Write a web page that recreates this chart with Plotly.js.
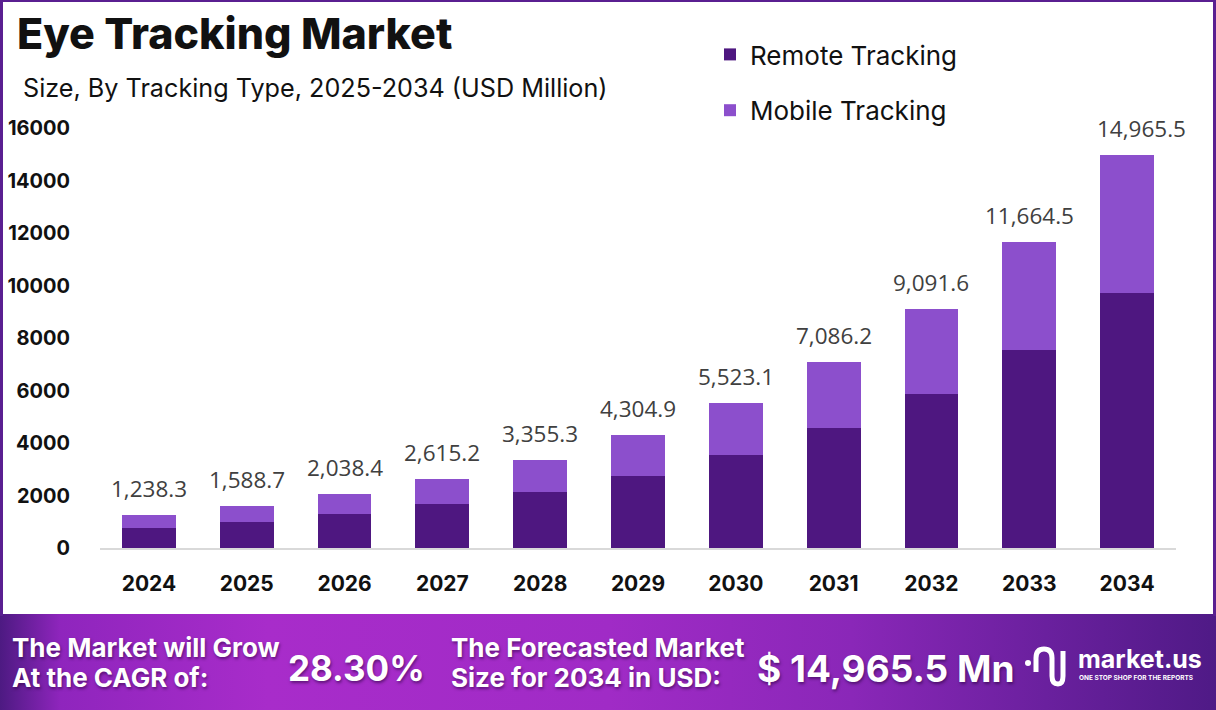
<!DOCTYPE html>
<html>
<head>
<meta charset="utf-8">
<script src="https://cdn.plot.ly/plotly-3.0.1.min.js"></script>
<style>
  html, body { margin: 0; padding: 0; background: #ffffff; }
  #wrap { position: relative; width: 1216px; height: 710px; overflow: hidden; }
  #banner { position: absolute; left: 0; top: 614px; width: 1216px; height: 96px;
    background: linear-gradient(90deg, #4d1a82 0%, #8f25bd 5%, #a82cca 22%, #a02bc6 50%, #8a27b8 70%, #6a209e 86%, #4f1a86 100%); }
  #border { position: absolute; left: 0; top: 0; width: 1210px; height: 614px;
    border-left: 3px solid #5a1f91; border-right: 3px solid #5a1f91; border-top: 2px solid #5a1f91; pointer-events: none; }
  #chart { position: absolute; left: 0; top: 0; width: 1216px; height: 710px; }
</style>
</head>
<body>
<div id="wrap">
  <div id="banner"></div>
  <div id="chart"></div>
  <div id="border"></div>
</div>
<script>
// ---- data ----
var years = ['2024', '2025', '2026', '2027', '2028', '2029', '2030', '2031', '2032', '2033', '2034'];
var remoteTracking = [765, 995, 1300, 1680, 2140, 2740, 3545, 4570, 5870, 7560, 9700];
var mobileTracking = [473.3, 593.7, 738.4, 935.2, 1215.3, 1564.9, 1978.1, 2516.2, 3221.6, 4104.5, 5265.5];
var totals = [1238.3, 1588.7, 2038.4, 2615.2, 3355.3, 4304.9, 5523.1, 7086.2, 9091.6, 11664.5, 14965.5];
var yTicks = [0, 2000, 4000, 6000, 8000, 10000, 12000, 14000, 16000];
var cagrText = '28.30%';
var forecastText = '$ 14,965.5 Mn';

// pixel helpers for overlay items (plot area: x 100..1176, y 128..548)
function xp(px) { return (px - 100) / 1076; }
function yp(py) { return (548 - py) / 420; }

var traces = [
  { type: 'bar', name: 'Remote Tracking', x: years, y: remoteTracking,
    marker: { color: '#4e1780' }, legendgroup: 'a' },
  { type: 'bar', name: 'Mobile Tracking', x: years, y: mobileTracking,
    marker: { color: '#8c4fcc' }, legendgroup: 'b' }
];

var annotations = [];
for (var i = 0; i < years.length; i++) {
  annotations.push({
    x: i, y: totals[i], xref: 'x', yref: 'y',   // category index of years[i]
    text: totals[i].toLocaleString('en-US', { minimumFractionDigits: 1, maximumFractionDigits: 1 }),
    showarrow: false, yanchor: 'bottom', yshift: 9, xshift: (i === years.length - 1) ? 14 : 0,
    font: { family: 'Open Sans, sans-serif', size: 22.5, color: '#404040' }
  });
}

var white = '#ffffff';
var shadow = '1px 2px 3px rgba(40,0,60,0.55)';
function bannerText(px, py, txt, size, anchor) {
  return { xref: 'paper', yref: 'paper', x: xp(px), y: yp(py), text: txt, showarrow: false,
    xanchor: anchor || 'left', yanchor: 'middle',
    font: { family: 'Inter, sans-serif', size: size, color: white, weight: 700, shadow: shadow } };
}
annotations.push(bannerText(10, 647, 'The Market will Grow', 26));
annotations.push(bannerText(10, 677, 'At the CAGR of:', 26));
annotations.push(bannerText(286, 668, cagrText, 35));
annotations.push(bannerText(449, 647, 'The Forecasted Market', 26));
annotations.push(bannerText(449, 677, 'Size for 2034 in USD:', 26));
annotations.push(bannerText(755, 668, forecastText, 37));
annotations.push({ xref: 'paper', yref: 'paper', x: xp(1076), y: yp(659), text: 'market.us', showarrow: false,
  xanchor: 'left', yanchor: 'middle', font: { family: 'Inter, sans-serif', size: 25, color: white, weight: 700 } });
annotations.push({ xref: 'paper', yref: 'paper', x: xp(1077), y: yp(678), text: 'ONE STOP SHOP FOR THE REPORTS', showarrow: false,
  xanchor: 'left', yanchor: 'middle', font: { family: 'Inter, sans-serif', size: 6.5, color: white, weight: 700 } });

// title & subtitle
annotations.push({ xref: 'paper', yref: 'paper', x: xp(15), y: yp(33), text: 'Eye Tracking Market', showarrow: false,
  xanchor: 'left', yanchor: 'middle', font: { family: 'Inter, sans-serif', size: 43, color: '#111111', weight: 800 } });
annotations.push({ xref: 'paper', yref: 'paper', x: xp(21), y: yp(88), text: 'Size, By Tracking Type, 2025-2034 (USD Million)', showarrow: false,
  xanchor: 'left', yanchor: 'middle', font: { family: 'Inter, sans-serif', size: 25.2, color: '#111111', weight: 400 } });

// logo icon (approximate)
var shapes = [
  { type: 'circle', xref: 'paper', yref: 'paper', x0: xp(1025), x1: xp(1031), y0: yp(666), y1: yp(660), fillcolor: white, line: { width: 0 } },
  { type: 'path', xref: 'paper', yref: 'paper',
    path: 'M ' + xp(1036) + ' ' + yp(672) + ' L ' + xp(1036) + ' ' + yp(658) + ' Q ' + xp(1036) + ' ' + yp(649) + ' ' + xp(1044) + ' ' + yp(649) +
          ' Q ' + xp(1052) + ' ' + yp(649) + ' ' + xp(1052) + ' ' + yp(658) + ' L ' + xp(1052) + ' ' + yp(676) +
          ' Q ' + xp(1052) + ' ' + yp(684) + ' ' + xp(1058) + ' ' + yp(684) + ' Q ' + xp(1063) + ' ' + yp(684) + ' ' + xp(1063) + ' ' + yp(676) +
          ' L ' + xp(1063) + ' ' + yp(651),
    line: { color: white, width: 5 }, fillcolor: 'rgba(0,0,0,0)' }
];

var layout = {
  width: 1216, height: 710,
  margin: { l: 100, r: 40, t: 128, b: 162, pad: 0 },
  paper_bgcolor: 'rgba(0,0,0,0)', plot_bgcolor: 'rgba(0,0,0,0)',
  barmode: 'stack', bargap: 0.45,
  showlegend: true,
  legend: { x: xp(710), y: yp(31), xanchor: 'left', yanchor: 'top',
    traceorder: 'grouped', tracegroupgap: 19, bgcolor: 'rgba(0,0,0,0)',
    font: { family: 'Inter, sans-serif', size: 26, color: '#111111' } },
  xaxis: { type: 'category', range: [-0.5, years.length - 0.5], showline: true, linecolor: '#d9d9d9', linewidth: 2,
    showgrid: false, zeroline: false,
    ticks: 'outside', ticklen: 16, tickcolor: 'rgba(0,0,0,0)', automargin: false,
    tickfont: { family: 'Inter, sans-serif', size: 21, color: '#111111', weight: 700 } },
  yaxis: { range: [0, 16000], tickvals: yTicks, ticktext: yTicks.map(String), showline: false, showgrid: false, zeroline: false,
    ticks: 'outside', ticklen: 25, tickcolor: 'rgba(0,0,0,0)', automargin: false,
    tickfont: { family: 'Inter, sans-serif', size: 20, color: '#111111', weight: 700 } },
  annotations: annotations,
  shapes: shapes
};

Plotly.newPlot('chart', traces, layout, { displayModeBar: false });
</script>
</body>
</html>
